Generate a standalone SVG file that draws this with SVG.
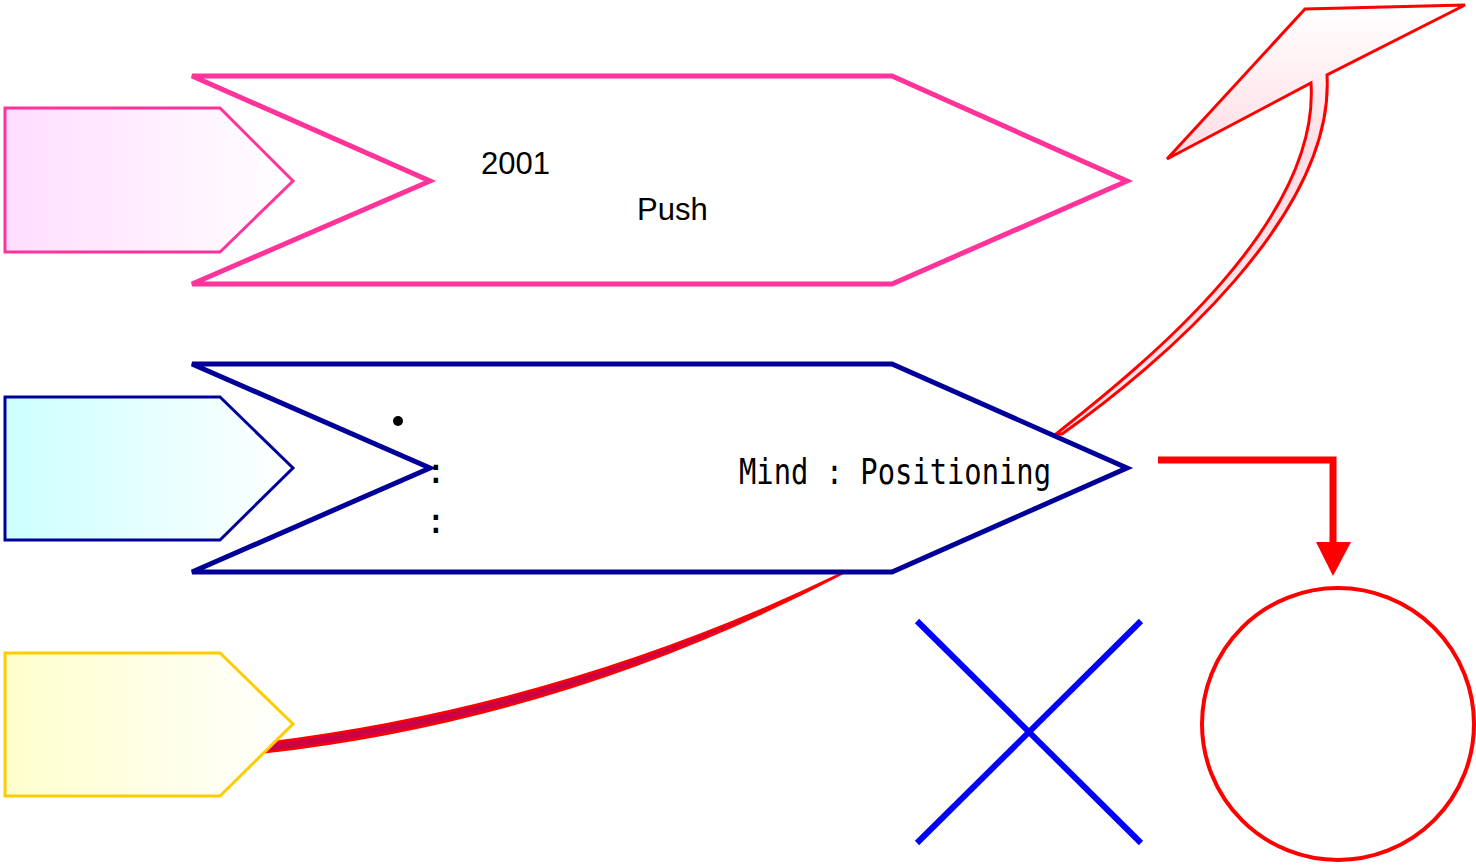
<svg xmlns="http://www.w3.org/2000/svg" width="1476" height="866" viewBox="0 0 1476 866">
<defs>
<linearGradient id="gPink" x1="0" y1="0" x2="1" y2="0"><stop offset="0" stop-color="#FFDDFF"/><stop offset="1" stop-color="#FFFFFF"/></linearGradient>
<linearGradient id="gCyan" x1="0" y1="0" x2="1" y2="0"><stop offset="0" stop-color="#CCFFFF"/><stop offset="1" stop-color="#FFFFFF"/></linearGradient>
<linearGradient id="gYellow" x1="0" y1="0" x2="1" y2="0"><stop offset="0" stop-color="#FFFFCC"/><stop offset="1" stop-color="#FFFFFF"/></linearGradient>
<linearGradient id="gRed" x1="0" y1="0" x2="0" y2="1"><stop offset="0" stop-color="#FFFFFF"/><stop offset="0.35" stop-color="#FFDDE4"/><stop offset="1" stop-color="#FFE4EA"/></linearGradient>
</defs>
<style>
.big{fill:#FFFFFF;stroke-width:5;stroke-linejoin:miter}
.small{stroke-width:3}
.t{font-family:"Liberation Sans",Arial,sans-serif;font-size:31px;fill:#000}
.m{font-family:"DejaVu Sans Mono","Liberation Mono",monospace;font-size:36px;fill:#000}
</style>
<g id="connectors">
<path d="M1056,434 C1150,360 1320,220 1311,83 L1167,159 L1305,9 L1465,5 L1327,75 C1335,215 1160,365 1062,434 Z" fill="url(#gRed)" stroke="#FF0000" stroke-width="3" stroke-linejoin="miter"/>
<path d="M266,743 Q568,706 845,572 Q568,718 266,752 Z" fill="#CC0044" stroke="#FF0000" stroke-width="2.5"/>
<polyline points="1158,460 1333,460 1333,545" fill="none" stroke="#FF0000" stroke-width="7"/>
<polygon points="1316,542 1351,542 1333,576" fill="#FF0000"/>
</g>
<g id="node-push">
<polygon class="big" stroke="#FF3399" points="192,76 892,76 1127,181 892,284 192,284 430,181"/>
<text class="t" x="481" y="174">2001</text>
<text class="t" x="637" y="220">Push</text>
</g>
<g id="node-pink">
<polygon class="small" fill="url(#gPink)" stroke="#FF3399" points="5,108 220,108 293,181 220,252 5,252"/>
</g>
<g id="node-mind">
<polygon class="big" stroke="#000099" points="192,364 892,364 1127,468 892,572 192,572 430,468"/>
<circle cx="398" cy="421" r="5" fill="#000"/>
<text class="m" x="425" y="483">:</text>
<text class="m" x="425" y="533">:</text>
<text class="m" x="739" y="484" textLength="312" lengthAdjust="spacingAndGlyphs">Mind : Positioning</text>
</g>
<g id="node-cyan">
<polygon class="small" fill="url(#gCyan)" stroke="#000099" points="5,397 220,397 293,468 220,540 5,540"/>
</g>
<g id="node-yellow">
<polygon class="small" fill="url(#gYellow)" stroke="#FFCC00" points="5,653 220,653 293,724 220,796 5,796"/>
</g>
<g id="node-cross">
<line x1="917" y1="621" x2="1141" y2="843" stroke="#0000FF" stroke-width="6"/>
<line x1="1141" y1="621" x2="917" y2="843" stroke="#0000FF" stroke-width="6"/>
</g>
<g id="node-circle">
<circle cx="1338" cy="724" r="136" fill="none" stroke="#FF0000" stroke-width="4"/>
</g>
</svg>
